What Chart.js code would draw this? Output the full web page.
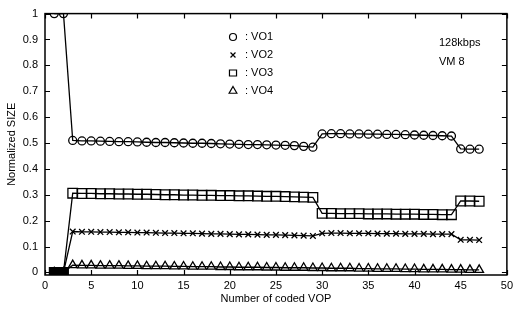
<!DOCTYPE html>
<html><head><meta charset="utf-8">
<script src="https://cdn.jsdelivr.net/npm/chart.js@4/dist/chart.umd.min.js"></script>
<style>html,body{margin:0;padding:0;background:#fff}canvas{display:block}</style>
</head><body>
<canvas id="c" width="517" height="315"></canvas>
<script>
const vop = [1,2,3,4,5,6,7,8,9,10,11,12,13,14,15,16,17,18,19,20,21,22,23,24,25,26,27,28,29,30,31,32,33,34,35,36,37,38,39,40,41,42,43,44,45,46,47];
const vo1 = [1.0,1.0,
  0.510,0.508,0.508,0.507,0.506,0.505,0.505,0.504,0.503,0.502,0.502,0.501,0.500,0.499,0.499,0.498,0.497,0.496,0.495,0.494,0.494,0.493,0.492,0.491,0.490,0.487,0.484,
  0.535,0.536,0.536,0.535,0.535,0.534,0.534,0.533,0.533,0.532,0.531,0.530,0.529,0.528,0.527,
  0.477,0.476,0.476];
const vo2 = [0,0,
  0.158,0.157,0.157,0.156,0.156,0.155,0.155,0.154,0.154,0.153,0.152,0.152,0.151,0.151,0.150,0.149,0.149,0.148,0.147,0.147,0.146,0.145,0.145,0.144,0.143,0.142,0.141,
  0.151,0.152,0.152,0.151,0.151,0.151,0.150,0.150,0.150,0.149,0.149,0.149,0.148,0.148,0.148,
  0.126,0.126,0.125];
const vo3 = [0,0,
  0.306,0.305,0.305,0.304,0.304,0.303,0.303,0.302,0.302,0.301,0.300,0.300,0.299,0.299,0.298,0.298,0.297,0.297,0.296,0.296,0.295,0.294,0.294,0.293,0.292,0.291,0.290,
  0.228,0.228,0.227,0.227,0.227,0.226,0.226,0.226,0.225,0.225,0.225,0.224,0.224,0.223,0.223,
  0.276,0.276,0.275];
const vo4 = [0,0,
  0.028,0.027,0.027,0.026,0.026,0.026,0.025,0.025,0.024,0.024,0.024,0.023,0.023,0.022,0.022,
  0.022,0.021,0.021,0.020,0.020,0.020,0.019,0.019,0.018,0.018,0.018,0.017,0.017,0.016,0.016,
  0.016,0.015,0.015,0.014,0.014,0.014,0.013,0.013,0.012,0.012,0.012,0.011,0.011,0.010,0.010];
const xTicks = [0,5,10,15,20,25,30,35,40,45,50];
const yTicks = [0,0.1,0.2,0.3,0.4,0.5,0.6,0.7,0.8,0.9,1];
const seriesNames = ['VO1','VO2','VO3','VO4'];
const noteLines = ['128kbps','VM 8'];
const xTitle = 'Number of coded VOP';
const yTitle = 'Normalized SIZE';

const FONT = 'Liberation Sans, Arial, Helvetica, sans-serif';
const styles = [
  {pointStyle:'circle', radius:4},
  {pointStyle:'crossRot', radius:4},
  {pointStyle:'rect', radius:6.8},
  {pointStyle:'triangle', radius:5}
];
const series = [vo1, vo2, vo3, vo4];

const datasets = series.map((vals, i) => ({
  label: seriesNames[i],
  data: vop.map((x, j) => ({x: x, y: vals[j]})),
  borderColor: '#000',
  borderWidth: 1.3,
  pointStyle: styles[i].pointStyle,
  pointRadius: styles[i].radius,
  pointBorderColor: '#000',
  pointBackgroundColor: c => (c.raw && c.raw.y === 0 && i === 2) ? '#000' : 'rgba(255,255,255,0)',
  pointBorderWidth: 1.3,
  fill: false,
  tension: 0
}));

function drawMarker(ctx, style, r, x, y) {
  ctx.beginPath();
  if (style === 'circle') {
    ctx.arc(x, y, r, 0, Math.PI * 2);
  } else if (style === 'crossRot') {
    const d = r * Math.SQRT1_2;
    ctx.moveTo(x - d, y - d); ctx.lineTo(x + d, y + d);
    ctx.moveTo(x + d, y - d); ctx.lineTo(x - d, y + d);
  } else if (style === 'rect') {
    const s = r * Math.SQRT1_2;
    ctx.rect(x - s, y - s * 0.85, 2 * s, 2 * s * 0.85);
  } else if (style === 'triangle') {
    for (let k = 0; k < 3; k++) {
      const a = k * 2 * Math.PI / 3;
      const px = x + Math.sin(a) * r, py = y - Math.cos(a) * r;
      if (k === 0) ctx.moveTo(px, py); else ctx.lineTo(px, py);
    }
    ctx.closePath();
  }
  ctx.stroke();
}

const framePlugin = {
  id: 'frame',
  afterDraw(chart) {
    const {ctx, chartArea: a, scales} = chart;
    ctx.save();
    ctx.strokeStyle = '#000';
    ctx.lineWidth = 1.5;
    ctx.strokeRect(a.left, a.top, a.right - a.left, a.bottom - a.top);
    ctx.lineWidth = 1.2;
    const tl = 5;
    ctx.beginPath();
    yTicks.forEach(v => {
      const y = Math.round(scales.y.getPixelForValue(v)) + 0.5;
      ctx.moveTo(a.left, y); ctx.lineTo(a.left + tl, y);
      ctx.moveTo(a.right, y); ctx.lineTo(a.right - tl, y);
    });
    xTicks.forEach(v => {
      const x = Math.round(scales.x.getPixelForValue(v)) + 0.5;
      ctx.moveTo(x, a.bottom); ctx.lineTo(x, a.bottom - tl);
      ctx.moveTo(x, a.top); ctx.lineTo(x, a.top + tl);
    });
    ctx.stroke();

    // legend
    ctx.fillStyle = '#000';
    ctx.font = '11px ' + FONT;
    ctx.textBaseline = 'middle';
    ctx.textAlign = 'left';
    const rows = [37, 55, 73, 91];
    seriesNames.forEach((name, i) => {
      ctx.lineWidth = 1.2;
      const r = i === 2 ? 5 : (i === 3 ? 4.5 : 3.5);
      drawMarker(ctx, styles[i].pointStyle, r, 233, rows[i]);
      ctx.fillText(': ' + name, 245, rows[i]);
    });
    noteLines.forEach((t, i) => ctx.fillText(t, 439, 43 + i * 19));
    ctx.restore();
  }
};

new Chart(document.getElementById('c'), {
  type: 'line',
  data: { datasets },
  options: {
    responsive: false,
    animation: false,
    devicePixelRatio: 1,
    layout: { padding: { left: 0, right: 4, top: 7, bottom: 0 } },
    plugins: { legend: { display: false }, tooltip: { enabled: false } },
    scales: {
      x: {
        type: 'linear', min: 0, max: 50,
        afterBuildTicks: s => { s.ticks = xTicks.map(v => ({value: v})); },
        afterFit: s => { s.height = 40; },
        grid: { display: false, drawTicks: false },
        border: { display: false },
        ticks: { color: '#000', padding: 4, font: { family: FONT, size: 11 }, maxRotation: 0, autoSkip: false },
        title: { display: true, text: xTitle, color: '#000', font: { family: FONT, size: 11 }, padding: { top: 0, bottom: 9 } }
      },
      y: {
        type: 'linear', min: -0.01, max: 1.0,
        afterBuildTicks: s => { s.ticks = yTicks.map(v => ({value: v})); },
        afterFit: s => { s.width = 45; },
        grid: { display: false, drawTicks: false },
        border: { display: false },
        ticks: { color: '#000', padding: 7, font: { family: FONT, size: 11 }, autoSkip: false,
          callback: v => String(+Number(v).toFixed(1)) },
        title: { display: true, text: yTitle, color: '#000', font: { family: FONT, size: 11 }, padding: { top: 5, bottom: 0 } }
      }
    }
  },
  plugins: [framePlugin]
});
</script>
</body></html>
